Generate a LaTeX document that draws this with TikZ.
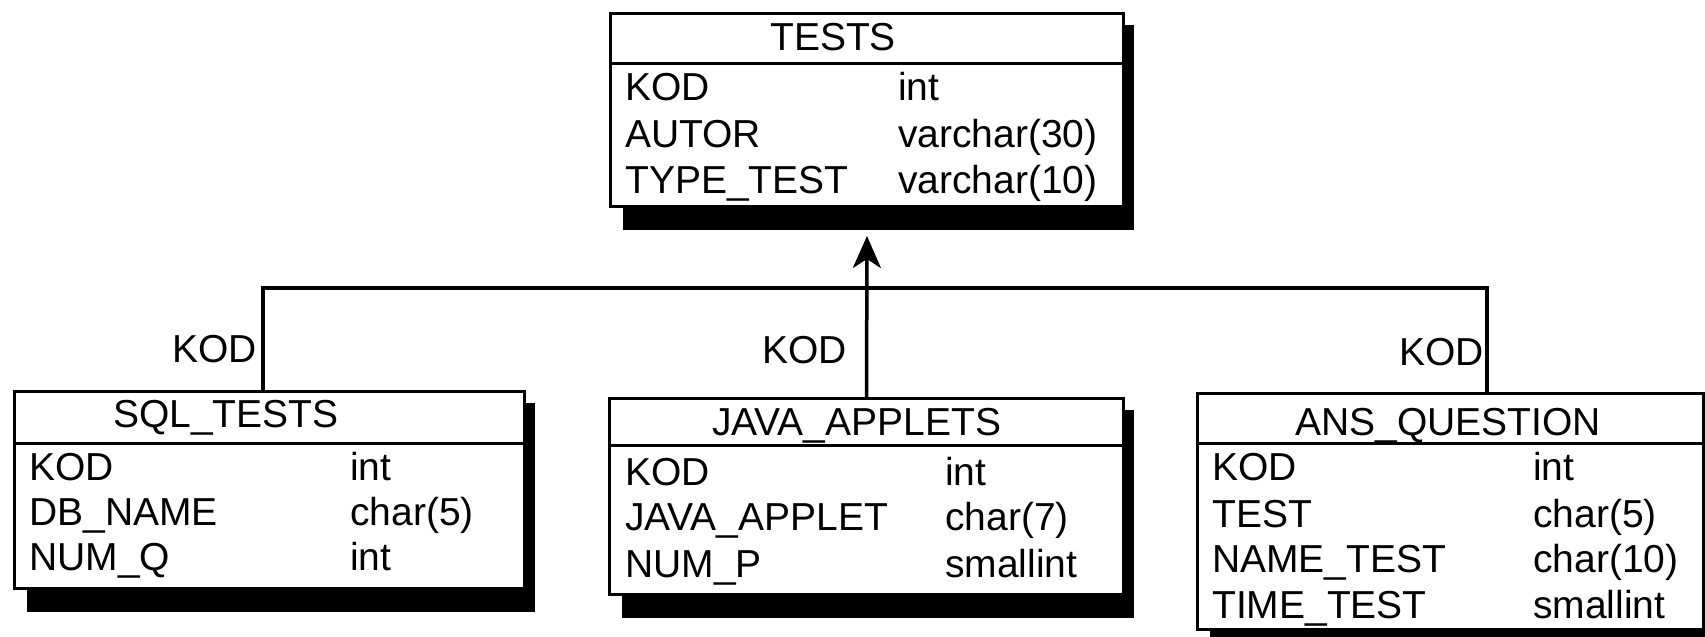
\documentclass[tikz,border=0pt]{standalone}
\usepackage{fontspec}
\setmainfont{Liberation Sans}
\usetikzlibrary{arrows.meta,calc,backgrounds}
\begin{document}
\begin{tikzpicture}[x=1pt,y=-1pt,
  every node/.style={font=\fontsize{39}{46}\selectfont, inner sep=0pt},
  frame/.style={draw, line width=3pt, fill=white, rectangle, anchor=north west, inner sep=0pt},
  rule/.style={line width=3pt},
  conn/.style={line width=3.5pt},
  txt/.style={anchor=base west},
  lbl/.style={anchor=base east},
  shade/.style={fill=black}
]
\useasboundingbox (0,0) rectangle (1705,637);

% ---- table frames ----
\node[frame, minimum width=513pt, minimum height=193pt] (tests) at (609,12) {};
\node[frame, minimum width=510pt, minimum height=197pt] (sql)   at (13,390) {};
\node[frame, minimum width=514pt, minimum height=196pt] (java)  at (608,397) {};
\node[frame, minimum width=506pt, minimum height=236pt] (ans)   at (1196,392) {};

% ---- drop shadows ----
\begin{scope}[on background layer]
  \foreach \t in {tests,sql,java,ans}
    \fill[shade] ($(\t.north west)+(14,13)$) rectangle ($(\t.south east)+(9,22)$);
\end{scope}

% ---- header rules ----
\draw[rule] ($(tests.north west)+(0,51)$) -- ($(tests.north east)+(0,51)$);
\draw[rule] ($(sql.north west)+(0,53)$)   -- ($(sql.north east)+(0,53)$);
\draw[rule] ($(java.north west)+(0,48)$)  -- ($(java.north east)+(0,48)$);
\draw[rule] ($(ans.north west)+(0,51)$)   -- ($(ans.north east)+(0,51)$);

% ---- TESTS ----
\node[txt] (testsH) at (770,50) {TESTS};
\node[txt] (testsA1) at (625,100) {KOD};
\node[txt] (testsA2) at (625,147) {AUTOR};
\node[txt] (testsA3) at (625,193) {TYPE\_TEST};
\node[txt] (testsT1) at (898,100) {int};
\node[txt] (testsT2) at (898,147) {varchar(30)};
\node[txt] (testsT3) at (898,193) {varchar(10)};

% ---- SQL_TESTS ----
\node[txt] (sqlH) at (113,427) {SQL\_TESTS};
\node[txt] (sqlA1) at (29,480) {KOD};
\node[txt] (sqlA2) at (29,525) {DB\_NAME};
\node[txt] (sqlA3) at (29,570) {NUM\_Q};
\node[txt] (sqlT1) at (350,480) {int};
\node[txt] (sqlT2) at (350,525) {char(5)};
\node[txt] (sqlT3) at (350,570) {int};

% ---- JAVA_APPLETS ----
\node[txt] (javaH) at (712,435) {JAVA\_APPLETS};
\node[txt] (javaA1) at (625,485) {KOD};
\node[txt] (javaA2) at (625,530) {JAVA\_APPLET};
\node[txt] (javaA3) at (625,577) {NUM\_P};
\node[txt] (javaT1) at (945,485) {int};
\node[txt] (javaT2) at (945,530) {char(7)};
\node[txt] (javaT3) at (945,577) {smallint};

% ---- ANS_QUESTION ----
\node[txt] (ansH) at (1295,435) {ANS\_QUESTION};
\node[txt] (ansA1) at (1212,480) {KOD};
\node[txt] (ansA2) at (1212,527) {TEST};
\node[txt] (ansA3) at (1212,572) {NAME\_TEST};
\node[txt] (ansA4) at (1212,618) {TIME\_TEST};
\node[txt] (ansT1) at (1533,480) {int};
\node[txt] (ansT2) at (1533,527) {char(5)};
\node[txt] (ansT3) at (1533,572) {char(10)};
\node[txt] (ansT4) at (1533,618) {smallint};

% ---- foreign key links ----
\coordinate (bus)  at (865,288);
\coordinate (sqlk) at ($(sql.north west)+(250,0)$);
\coordinate (ansk) at ($(ans.north west)+(291,0)$);
\draw[conn] (sqlk) |- (bus) -| (ansk);
\draw[conn, -{Stealth[length=32pt, width=28pt, inset=9pt]}] (java.north) -- ($(tests.south)+(0,28)$);

\node[lbl] (kodSql)  at (257,362)  {KOD};
\node[lbl] (kodJava) at (847,363)  {KOD};
\node[lbl] (kodAns)  at (1484,365) {KOD};
\end{tikzpicture}
\end{document}
